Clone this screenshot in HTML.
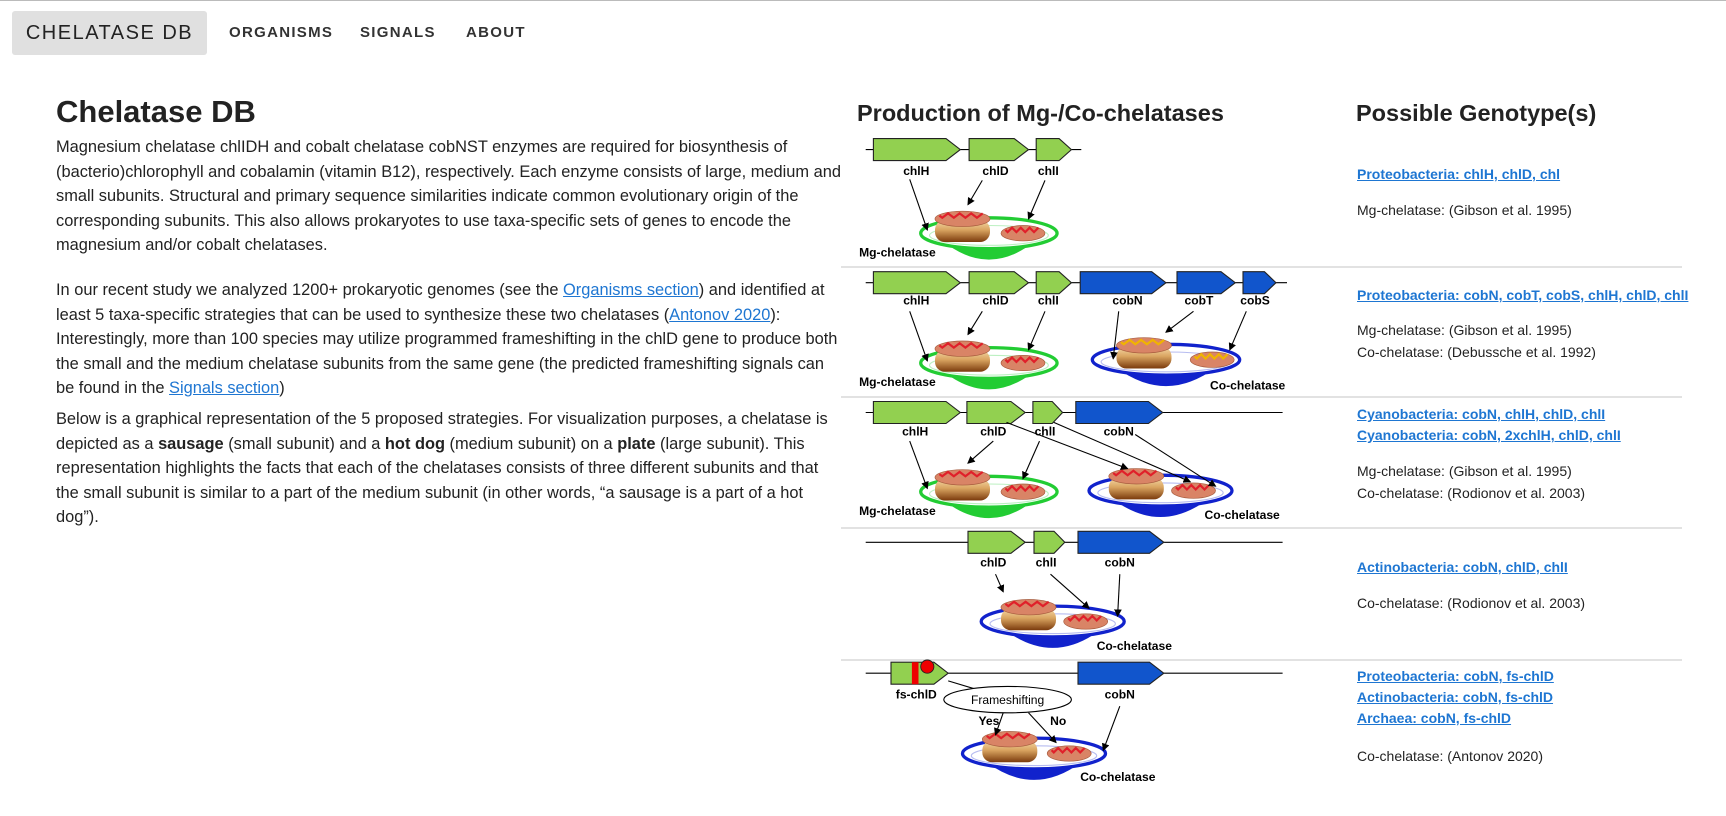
<!DOCTYPE html>
<html><head><meta charset="utf-8">
<style>
*{margin:0;padding:0;box-sizing:border-box}
body{width:1726px;height:816px;overflow:hidden;background:#fff;font-family:"Liberation Sans",sans-serif;color:#222;position:relative}
.topline{position:absolute;left:0;top:0;width:1726px;height:1px;background:#bbb}
.brand{position:absolute;left:12px;top:11px;width:195px;height:44px;background:#e0e0e0;border-radius:3px;font-size:20px;letter-spacing:1.5px;line-height:44px;text-align:center;color:#222}
.nav{position:absolute;top:24px;font-size:15px;letter-spacing:1.3px;font-weight:bold;color:#333}
h1{position:absolute;left:56px;top:94px;font-size:31px;font-weight:bold}
.para{position:absolute;left:56px;width:790px;font-size:16.4px;line-height:24.6px;color:#222}
.para a{color:#1e76d2;text-decoration:underline}
h2{position:absolute;top:100px;font-size:23.5px;font-weight:bold}
.sep{position:absolute;left:841px;width:841px;height:2px;background:#e2e2e2}
.lnk{position:absolute;left:1357px;font-size:14px;font-weight:bold;color:#1e76d2;text-decoration:underline;white-space:nowrap}
.ref{position:absolute;left:1357px;font-size:14px;color:#222;white-space:nowrap}
svg{position:absolute;left:0;top:0}
</style></head><body>
<div class="topline"></div>
<div class="brand">CHELATASE DB</div>
<div class="nav" style="left:229px">ORGANISMS</div>
<div class="nav" style="left:360px">SIGNALS</div>
<div class="nav" style="left:466px">ABOUT</div>

<h1>Chelatase DB</h1>
<div class="para" style="top:135px">Magnesium chelatase chlIDH and cobalt chelatase cobNST enzymes are required for biosynthesis of (bacterio)chlorophyll and cobalamin (vitamin B12), respectively. Each enzyme consists of large, medium and small subunits. Structural and primary sequence similarities indicate common evolutionary origin of the corresponding subunits. This also allows prokaryotes to use taxa-specific sets of genes to encode the magnesium and/or cobalt chelatases.</div>
<div class="para" style="top:278px">In our recent study we analyzed 1200+ prokaryotic genomes (see the <a>Organisms section</a>) and identified at least 5 taxa-specific strategies that can be used to synthesize these two chelatases (<a>Antonov 2020</a>): Interestingly, more than 100 species may utilize programmed frameshifting in the chlD gene to produce both the small and the medium chelatase subunits from the same gene (the predicted frameshifting signals can be found in the <a>Signals section</a>)</div>
<div class="para" style="top:407px;width:774px">Below is a graphical representation of the 5 proposed strategies. For visualization purposes, a chelatase is depicted as a <b>sausage</b> (small subunit) and a <b>hot dog</b> (medium subunit) on a <b>plate</b> (large subunit). This representation highlights the facts that each of the chelatases consists of three different subunits and that the small subunit is similar to a part of the medium subunit (in other words, “a sausage is a part of a hot dog”).</div>

<h2 style="left:857px">Production of Mg-/Co-chelatases</h2>
<h2 style="left:1356px">Possible Genotype(s)</h2>
<div class="sep" style="top:266px"></div>
<div class="sep" style="top:396px"></div>
<div class="sep" style="top:527px"></div>
<div class="sep" style="top:659px"></div>

<a class="lnk" style="top:166px">Proteobacteria: chlH, chlD, chl</a>
<div class="ref" style="top:202px">Mg-chelatase: (Gibson et al. 1995)</div>
<a class="lnk" style="top:287px">Proteobacteria: cobN, cobT, cobS, chlH, chlD, chlI</a>
<div class="ref" style="top:322px">Mg-chelatase: (Gibson et al. 1995)</div>
<div class="ref" style="top:344px">Co-chelatase: (Debussche et al. 1992)</div>
<a class="lnk" style="top:406px">Cyanobacteria: cobN, chlH, chlD, chlI</a>
<a class="lnk" style="top:427px">Cyanobacteria: cobN, 2xchlH, chlD, chlI</a>
<div class="ref" style="top:463px">Mg-chelatase: (Gibson et al. 1995)</div>
<div class="ref" style="top:485px">Co-chelatase: (Rodionov et al. 2003)</div>
<a class="lnk" style="top:559px">Actinobacteria: cobN, chlD, chlI</a>
<div class="ref" style="top:595px">Co-chelatase: (Rodionov et al. 2003)</div>
<a class="lnk" style="top:668px">Proteobacteria: cobN, fs-chlD</a>
<a class="lnk" style="top:689px">Actinobacteria: cobN, fs-chlD</a>
<a class="lnk" style="top:710px">Archaea: cobN, fs-chlD</a>
<div class="ref" style="top:748px">Co-chelatase: (Antonov 2020)</div>

<svg id="ill" width="1726" height="816">
<defs>
<linearGradient id="bun" x1="0" y1="0" x2="0" y2="1"><stop offset="0" stop-color="#f6d9a8"/><stop offset="0.45" stop-color="#d9a460"/><stop offset="1" stop-color="#7a3a0c"/></linearGradient>
<marker id="ah" markerWidth="7" markerHeight="7" refX="6" refY="3.5" orient="auto"><path d="M0,0 L7,3.5 L0,7 Z" fill="#000"/></marker>
</defs>
<g id="root" transform="scale(1.1)"></g>
</svg>
<script>
const NS='http://www.w3.org/2000/svg';
const root=document.getElementById('root');
function mk(tag,attrs,parent){const e=document.createElementNS(NS,tag);for(const k in attrs)e.setAttribute(k,attrs[k]);(parent||root).appendChild(e);return e;}
function txt(x,y,s,size,anchor){const t=mk('text',{x:x,y:y,'font-size':size||11,'font-weight':'bold','text-anchor':anchor||'middle','font-family':'Liberation Sans, sans-serif',fill:'#000'});t.textContent=s;return t;}
function gene(x1,x2,y,color,label){
  const g=mk('g',{});
  
  
  const tip=Math.min(13,(x2-x1)*0.35);
  mk('path',{d:`M${x1},${y-10} L${x2-tip},${y-10} L${x2},${y} L${x2-tip},${y+10} L${x1},${y+10} Z`,fill:color,stroke:'#222','stroke-width':1},g);
}
function line(x1,x2,y){mk('line',{x1:x1,y1:y,x2:x2,y2:y,stroke:'#000','stroke-width':1});}
function arrow(x1,y1,x2,y2){mk('line',{x1:x1,y1:y1,x2:x2,y2:y2,stroke:'#000','stroke-width':1,'marker-end':'url(#ah)'});}
function plate(cx,cy,rx,color,name){
  const g=mk('g',{});
  
  
  mk('path',{d:`M${cx-rx*0.7},${cy+6} Q${cx},${cy+42} ${cx+rx*0.7},${cy+6} Z`,fill:color},g);
  mk('ellipse',{cx:cx,cy:cy,rx:rx,ry:14,fill:'#fff',stroke:color,'stroke-width':3},g);
  mk('ellipse',{cx:cx,cy:cy+2,rx:rx-8,ry:9,fill:'none',stroke:color,'stroke-opacity':0.3,'stroke-width':1},g);
}
function saus(cx,cy,w,must){
  mk('ellipse',{cx:cx,cy:cy,rx:w/2,ry:7,fill:'#d98466',stroke:'#a55a3c','stroke-width':0.6});
  let d=`M${cx-w/2+4},${cy-3}`;for(let i=0;i<8;i++){d+=` L${cx-w/2+4+(i+0.5)*(w-8)/8},${cy-(i%2?5:1)}`;}
  mk('path',{d:d,fill:'none',stroke:must?'#f0b400':'#e0202a','stroke-width':2});
}
function hotdog(cx,cy,must){
  mk('rect',{x:cx-25,y:cy-6,width:50,height:20,rx:9,fill:'url(#bun)'});
  saus(cx,cy-7,50,must);
}

/* row data */
const row1Genes=[['chlH',794,873],['chlD',881,935],['chlI',942,974]];
const row2Genes=[['chlH',794,873],['chlD',881,935],['chlI',942,974],['cobN',982,1060],['cobT',1070,1123],['cobS',1130,1160]];
const row3Genes=[['chlH',794,873],['chlD',879,932],['chlI',939,966],['cobN',978,1057]];
const row4Genes=[['chlD',880,932],['chlI',940,968],['cobN',980,1058]];
const GREEN='#92d050',BLUE='#1155cc';
function colorOf(n){return n.startsWith('cob')?BLUE:GREEN;}

/* Row 1 */
line(787,983,136);
row1Genes.forEach(g=>{gene(g[1],g[2],136,colorOf(g[0]),g[0]);});
txt(833,159,'chlH');txt(905,159,'chlD');txt(953,159,'chlI');
plate(899,212,62,'#22cc33','mg-plate-1');hotdog(875,206,false);saus(930,212,40,false);
arrow(827,163,843,209);arrow(893,164,880,186);arrow(950,164,935,199);
txt(781,233,'Mg-chelatase',11,'start');

/* Row 2 */
line(787,1170,257);
row2Genes.forEach(g=>{gene(g[1],g[2],257,colorOf(g[0]),g[0]);});
[['chlH',833],['chlD',905],['chlI',953],['cobN',1025],['cobT',1090],['cobS',1141]].forEach(l=>txt(l[1],277,l[0]));
plate(899,330,62,'#22cc33','mg-plate-2');hotdog(875,324,false);saus(930,330,40,false);
arrow(827,283,843,328);arrow(893,283,880,304);arrow(950,283,935,318);
plate(1060,327,67,'#1122cc','co-plate-2');hotdog(1040,321,true);saus(1102,327,40,true);
arrow(1017,283,1012,326);arrow(1085,283,1060,302);arrow(1133,283,1118,318);
txt(781,351,'Mg-chelatase',11,'start');txt(1100,354,'Co-chelatase',11,'start');

/* Row 3 */
line(787,1166,375);
row3Genes.forEach(g=>{gene(g[1],g[2],375,colorOf(g[0]),g[0]);});
txt(832,396,'chlH');txt(903,396,'chlD');txt(950,396,'chlI');txt(1017,396,'cobN');
plate(899,447,62,'#22cc33','mg-plate-3');hotdog(875,441,false);saus(930,447,40,false);
arrow(827,401,843,444);arrow(903,401,880,421);arrow(945,401,930,435);
plate(1055,446,65,'#1122cc','co-plate-3');hotdog(1033,440,false);saus(1085,446,40,false);
arrow(915,384,1025,426);arrow(958,384,1082,438);arrow(1032,395,1105,442);
txt(781,468,'Mg-chelatase',11,'start');txt(1095,472,'Co-chelatase',11,'start');

/* Row 4 */
line(787,1166,493);
row4Genes.forEach(g=>{gene(g[1],g[2],493,colorOf(g[0]),g[0]);});
txt(903,515,'chlD');txt(951,515,'chlI');txt(1018,515,'cobN');
plate(957,565,65,'#1122cc','co-plate-4');hotdog(935,559,false);saus(987,565,40,false);
arrow(905,522,912,538);arrow(955,522,990,553);arrow(1018,522,1016,560);
txt(997,591,'Co-chelatase',11,'start');

/* Row 5 */
line(787,1166,612);
gene(810,862,612,GREEN,'fs-chlD');
mk('rect',{x:829,y:602,width:6,height:20,fill:'#ee0000'});
mk('circle',{cx:843,cy:606,r:6,fill:'#ee0000',stroke:'#222','stroke-width':0.8});
gene(980,1058,612,BLUE,'cobN');
txt(833,635,'fs-chlD');txt(1018,635,'cobN');
mk('line',{x1:862,y1:619,x2:892,y2:628,stroke:'#000'});
const el=mk('ellipse',{cx:916,cy:636,rx:58,ry:12,fill:'#fff',stroke:'#000'});


const ft=txt(916,640,'Frameshifting',11);ft.setAttribute('font-weight','normal');
txt(899,659,'Yes');txt(962,659,'No');
plate(940,685,65,'#1122cc','co-plate-5');hotdog(918,679,false);saus(972,685,40,false);
arrow(912,648,905,668);arrow(935,648,960,675);arrow(1018,642,1003,682);
txt(982,710,'Co-chelatase',11,'start');
</script>
</body></html>
